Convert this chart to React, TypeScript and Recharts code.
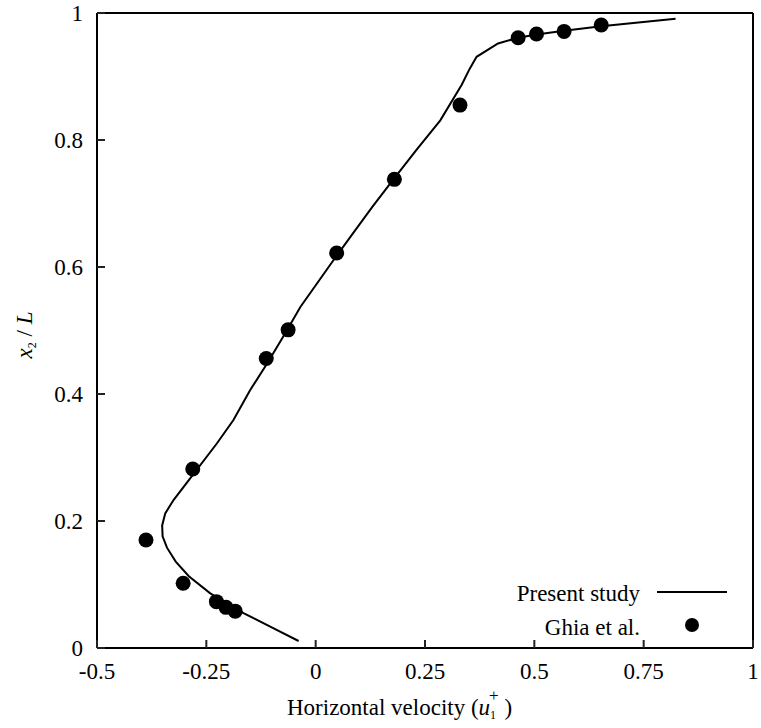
import { ScatterChart, Scatter, XAxis, YAxis, Legend } from 'recharts';

// present study profile (u1+, x2/L)
const studyU = [-0.039, -0.096, -0.165, -0.241, -0.29, -0.32, -0.34, -0.35, -0.351, -0.344, -0.325, -0.287, -0.226, -0.188, -0.15, -0.111, -0.072, -0.035, 0.041, 0.079, 0.13, 0.18, 0.23, 0.285, 0.334, 0.352, 0.368, 0.417, 0.463, 0.505, 0.568, 0.653, 0.823];
const studyY = [0.011, 0.031, 0.055, 0.086, 0.113, 0.136, 0.158, 0.176, 0.193, 0.212, 0.233, 0.267, 0.322, 0.359, 0.406, 0.448, 0.493, 0.537, 0.611, 0.647, 0.695, 0.74, 0.784, 0.831, 0.887, 0.912, 0.931, 0.952, 0.961, 0.966, 0.972, 0.979, 0.991];

// Ghia et al. reference points
const ghiaU = [-0.184, -0.205, -0.227, -0.303, -0.388, -0.281, -0.113, -0.063, 0.048, 0.18, 0.33, 0.463, 0.505, 0.568, 0.653];
const ghiaY = [0.058, 0.064, 0.073, 0.102, 0.17, 0.282, 0.456, 0.501, 0.622, 0.738, 0.855, 0.961, 0.967, 0.971, 0.981];

const xTicks = [-0.5, -0.25, 0, 0.25, 0.5, 0.75, 1];
const yTicks = [0, 0.2, 0.4, 0.6, 0.8, 1];

const studyData = studyU.map((u, i) => ({ u, y: studyY[i] }));
const ghiaData = ghiaU.map((u, i) => ({ u, y: ghiaY[i] }));

const FONT = 'Liberation Serif';
const TICK_LEN = 8;
const GAP = 14;

// inward ticks drawn by hand, labels outside
const BottomTick = ({ x, y, payload }: any) => (
  <g>
    <line x1={x} x2={x} y1={y - GAP} y2={y - GAP - TICK_LEN} stroke="#222" strokeWidth={2} />
    <text x={x} y={y + 17} textAnchor="middle" fill="#000" style={{ fontFamily: FONT, fontSize: 23 }}>{String(payload.value)}</text>
  </g>
);
const TopTick = ({ x, y }: any) => (
  <line x1={x} x2={x} y1={y + GAP + 1} y2={y + GAP + 1 + TICK_LEN} stroke="#222" strokeWidth={2} />
);
const LeftTick = ({ x, y, payload }: any) => (
  <g>
    <line x1={x + GAP} x2={x + GAP + TICK_LEN} y1={y} y2={y} stroke="#222" strokeWidth={2} />
    <text x={x} y={y + 8} textAnchor="end" fill="#000" style={{ fontFamily: FONT, fontSize: 23 }}>{String(payload.value)}</text>
  </g>
);
const RightTick = ({ x, y }: any) => (
  <line x1={x - GAP - 1} x2={x - GAP - 1 - TICK_LEN} y1={y} y2={y} stroke="#222" strokeWidth={2} />
);

function XTitle({ viewBox }: any) {
  return (
    <text x={viewBox.x + 190} y={715} fill="#000" style={{ fontFamily: FONT, fontSize: 23 }}>
      Horizontal  velocity  (
      <tspan fontStyle="italic">u</tspan>
      <tspan fontSize={12} dy={4}>1</tspan>
      <tspan fontSize={17} dx={-7} dy={-18}>+</tspan>
      <tspan dy={14}> )</tspan>
    </text>
  );
}

function YTitle() {
  return (
    <text x={0} y={0} transform="translate(32,335) rotate(-90)" textAnchor="middle" fill="#000" style={{ fontFamily: FONT, fontSize: 23 }}>
      <tspan fontStyle="italic">x</tspan>
      <tspan fontSize={12} dy={4}>2</tspan>
      <tspan dy={-4}> / </tspan>
      <tspan fontStyle="italic">L</tspan>
    </text>
  );
}

function LegendBox() {
  return (
    <svg width={280} height={75} style={{ display: 'block' }}>
      <text x={160} y={26} textAnchor="end" fill="#000" style={{ fontFamily: FONT, fontSize: 23 }}>Present study</text>
      <line x1={177} x2={247} y1={17} y2={17} stroke="#000" strokeWidth={2} />
      <text x={160} y={60} textAnchor="end" fill="#000" style={{ fontFamily: FONT, fontSize: 23 }}>Ghia et al.</text>
      <circle cx={212} cy={50} r={7} fill="#000" />
    </svg>
  );
}

const Dot = (props: any) => <circle cx={props.cx} cy={props.cy} r={7.5} fill="#000" />;
const NoDot = () => <g />;

const axisLine = { stroke: '#000', strokeWidth: 2 };

export default function App() {
  return (
    <div style={{ position: 'absolute', left: 0, top: 0, background: '#fff' }}>
      <ScatterChart width={761} height={728} margin={{ top: 12, right: 7, bottom: 0, left: 0 }}>
        <XAxis
          xAxisId="b"
          type="number"
          dataKey="u"
          domain={[-0.5, 1]}
          ticks={xTicks}
          height={80}
          tickSize={0}
          tickMargin={GAP}
          tick={<BottomTick />}
          axisLine={axisLine}
          label={<XTitle />}
        />
        <XAxis
          xAxisId="t"
          orientation="top"
          type="number"
          dataKey="u"
          domain={[-0.5, 1]}
          ticks={xTicks}
          height={1}
          tickSize={0}
          tickMargin={GAP}
          tick={<TopTick />}
          axisLine={axisLine}
        />
        <YAxis
          yAxisId="l"
          type="number"
          dataKey="y"
          domain={[0, 1]}
          ticks={yTicks}
          width={97}
          tickSize={0}
          tickMargin={GAP}
          tick={<LeftTick />}
          axisLine={axisLine}
          label={<YTitle />}
        />
        <YAxis
          yAxisId="r"
          orientation="right"
          type="number"
          dataKey="y"
          domain={[0, 1]}
          ticks={yTicks}
          width={1}
          tickSize={0}
          tickMargin={GAP}
          tick={<RightTick />}
          axisLine={axisLine}
        />
        <Legend
          layout="horizontal"
          verticalAlign="middle"
          align="center"
          content={<LegendBox />}
          wrapperStyle={{ left: 480, top: 575, width: 280, height: 75 }}
        />
        <Scatter
          name="Present study"
          xAxisId="b"
          yAxisId="l"
          data={studyData}
          line={{ stroke: '#000', strokeWidth: 2 }}
          lineType="joint"
          shape={<NoDot />}
          isAnimationActive={false}
        />
        <Scatter
          name="Ghia et al."
          xAxisId="b"
          yAxisId="l"
          data={ghiaData}
          shape={<Dot />}
          isAnimationActive={false}
        />
      </ScatterChart>
    </div>
  );
}
